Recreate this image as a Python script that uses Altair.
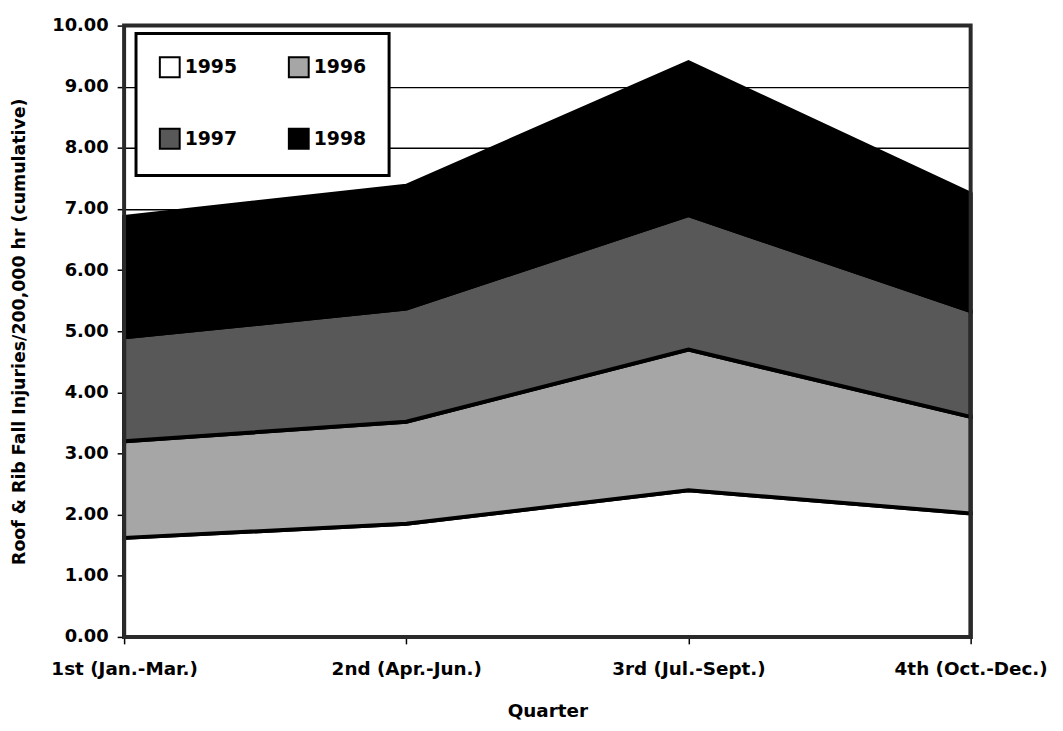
import altair as alt
import pandas as pd

quarters = ["1st (Jan.-Mar.)", "2nd (Apr.-Jun.)", "3rd  (Jul.-Sept.)", "4th (Oct.-Dec.)"]
years = ["1995", "1996", "1997", "1998"]
# per-year increments (stacked = cumulative)
y1995 = [1.62, 1.85, 2.40, 2.02]
y1996 = [1.58, 1.67, 2.30, 1.58]
y1997 = [1.70, 1.85, 2.20, 1.73]
y1998 = [1.97, 2.01, 2.50, 1.92]
y_ticks = [0, 1, 2, 3, 4, 5, 6, 7, 8, 9, 10]

rows = []
for yr, vals in zip(years, [y1995, y1996, y1997, y1998]):
    for q, v in zip(quarters, vals):
        rows.append({"quarter": q, "year": yr, "rate": v})
df = pd.DataFrame(rows)

fills = ["#ffffff", "#a6a6a6", "#585858", "#000000"]
FONT = "DejaVu Sans"
W, H = 853, 616

areas = alt.Chart(df).mark_area(stroke="black", strokeWidth=4, strokeJoin="miter").encode(
    x=alt.X(
        "quarter:N",
        sort=quarters,
        scale=alt.Scale(type="point", padding=0),
        axis=alt.Axis(
            title="Quarter",
            labelAngle=0,
            labelFont=FONT,
            labelFontSize=18.5,
            labelFontWeight="bold",
            labelColor="black",
            labelPadding=16,
            tickColor="black",
            tickSize=7,
            tickWidth=1.5,
            domain=False,
            grid=False,
            titleFont=FONT,
            titleFontSize=18.5,
            titleFontWeight="bold",
            titleColor="black",
            titleY=80,
            titleBaseline="alphabetic",
        ),
    ),
    y=alt.Y(
        "rate:Q",
        stack="zero",
        scale=alt.Scale(domain=[0, 10], nice=False),
        axis=alt.Axis(
            values=y_ticks,
            format=".2f",
            title="Roof & Rib Fall Injuries/200,000 hr (cumulative)",
            labelFont=FONT,
            labelFontSize=18,
            labelFontWeight="bold",
            labelColor="black",
            labelPadding=9,
            tickColor="black",
            tickSize=7,
            tickWidth=1.5,
            domain=False,
            grid=True,
            gridColor="black",
            gridWidth=1.5,
            gridOpacity=1,
            titleFont=FONT,
            titleFontSize=17.5,
            titleFontWeight="bold",
            titleColor="black",
            titleAngle=270,
            titleX=-105,
            titleY=H / 2,
            titleAlign="center",
            titleBaseline="middle",
        ),
    ),
    color=alt.Color(
        "year:N",
        title=None,
        scale=alt.Scale(domain=years, range=fills),
        legend=alt.Legend(
            orient="none",
            legendX=12,
            legendY=8,
            columns=2,
            direction="horizontal",
            symbolType="square",
            symbolSize=400,
            symbolStrokeColor="black",
            symbolStrokeWidth=2,
            labelFont=FONT,
            labelFontSize=19,
            labelFontWeight="bold",
            labelColor="black",
            labelOffset=4,
            padding=23,
            rowPadding=44,
            columnPadding=48,
            strokeColor="black",
            fillColor="white",
        ),
    ),
    order=alt.Order("year:N", sort="ascending"),
)

frame = alt.Chart(alt.Data(values=[{}])).mark_rect(
    fillOpacity=0, stroke="#2a2a2a", strokeWidth=4
).encode(x=alt.value(0), x2=alt.value(W), y=alt.value(0), y2=alt.value(H))

chart = alt.layer(areas, frame).properties(
    width=W,
    height=H,
    padding={"left": 117, "top": 15, "right": 85, "bottom": 83},
    autosize=alt.AutoSizeParams(type="none"),
    background="white",
).configure_view(stroke="transparent").configure_legend(strokeWidth=3)

chart.save("out.html", embed_options={"renderer": "svg", "actions": False})
